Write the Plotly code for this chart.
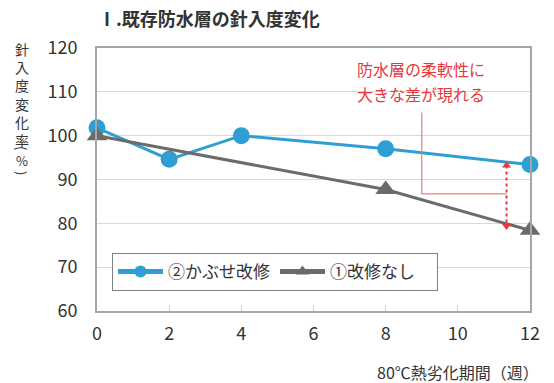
import plotly.graph_objects as go

# Weeks of heat aging at 80°C
weeks = [0, 2, 4, 8, 12]
weeks_none = [0, 8, 12]

# Penetration change ratio (%)
covered = [101.8, 94.6, 100.0, 97.0, 93.4]     # ②かぶせ改修
unrepaired = [100.0, 87.7, 78.4]               # ①改修なし

y_ticks = [60, 70, 80, 90, 100, 110, 120]
x_ticks = [0, 2, 4, 6, 8, 10, 12]

# Callout geometry (data units)
bracket_x = [9.0, 9.0, 11.35]
bracket_y = [105.3, 86.7, 86.7]
arrow_x = 11.35
arrow_top = 93.2
arrow_bottom = 79.4

FONT = "Noto Sans CJK JP"
BLUE = "#2f9fd3"
GRAY = "#6b6b6b"
RED = "#e8383d"
TEXT = "#333333"

W, H = 554, 383
ML, MR, MT, MB = 97, 24, 48, 72
PW, PH = W - ML - MR, H - MT - MB


def px(xp, yp):
    """Pixel position on the page -> paper coordinates."""
    return (xp - ML) / PW, 1 - (yp - MT) / PH


fig = go.Figure()

fig.add_trace(go.Scatter(
    x=weeks, y=covered, name="②かぶせ改修", mode="lines+markers",
    line=dict(color=BLUE, width=3),
    marker=dict(symbol="circle", size=17, color=BLUE),
    cliponaxis=False,
))
fig.add_trace(go.Scatter(
    x=weeks_none, y=unrepaired, name="①改修なし\u3000", mode="lines+markers",
    line=dict(color=GRAY, width=3),
    marker=dict(symbol="triangle-up", size=18, color=GRAY),
    cliponaxis=False,
))

# Bracket line from the callout text
fig.add_trace(go.Scatter(
    x=bracket_x, y=bracket_y, mode="lines", showlegend=False,
    line=dict(color="#f07a7a", width=1.2), hoverinfo="skip",
))
# Dotted double arrow showing the gap
fig.add_trace(go.Scatter(
    x=[arrow_x, arrow_x], y=[arrow_top, arrow_bottom], mode="lines", showlegend=False,
    line=dict(color=RED, width=2, dash="dot"), hoverinfo="skip",
))
fig.add_trace(go.Scatter(
    x=[arrow_x, arrow_x], y=[arrow_top, arrow_bottom], mode="markers", showlegend=False,
    marker=dict(symbol=["triangle-up", "triangle-down"], size=8, color=RED),
    hoverinfo="skip",
))

# Callout text
for line_text, yp in [("防水層の柔軟性に", 69), ("大きな差が現れる", 94)]:
    ax, ay = px(421, yp)
    fig.add_annotation(
        x=ax, y=ay, xref="paper", yref="paper", text=line_text, showarrow=False,
        font=dict(family=FONT, size=16, color=RED), xanchor="center", yanchor="middle",
    )

# Title
tx, ty = px(96, 18)
fig.add_annotation(
    x=tx, y=ty, xref="paper", yref="paper", text="<b>Ⅰ.既存防水層の針入度変化</b>",
    showarrow=False, font=dict(family=FONT, size=18, color=TEXT),
    xanchor="left", yanchor="middle",
)

# Vertical y-axis title: upright glyphs stacked, then rotated parentheses around %
cx, cy = px(22, 37)
fig.add_annotation(
    x=cx, y=cy, xref="paper", yref="paper",
    text="<br>".join(list("針入度変化率")),
    showarrow=False, font=dict(family=FONT, size=14, color=TEXT),
    xanchor="center", yanchor="top", align="center",
)
for ch, yp, angle in [("(", 148, 90), ("%", 160, 0), (")", 173, 90)]:
    cx, cy = px(22, yp)
    fig.add_annotation(
        x=cx, y=cy, xref="paper", yref="paper", text=ch, showarrow=False,
        textangle=angle, font=dict(family=FONT, size=13, color=TEXT),
        xanchor="center", yanchor="middle", borderpad=0,
    )

# x-axis title
xx, xy = px(541, 372)
fig.add_annotation(
    x=xx, y=xy, xref="paper", yref="paper", text="80℃熱劣化期間（週）", showarrow=False,
    font=dict(family=FONT, size=16, color=TEXT),
    xanchor="right", yanchor="middle",
)

lx, ly = px(112, 253)
fig.update_layout(
    width=W, height=H,
    margin=dict(l=ML, r=MR, t=MT, b=MB),
    paper_bgcolor="white", plot_bgcolor="white",
    font=dict(family=FONT, color=TEXT),
    showlegend=True,
    legend=dict(
        orientation="h", x=lx, y=ly, xanchor="left", yanchor="top",
        bgcolor="white", bordercolor="#7f7f7f", borderwidth=1,
        font=dict(family=FONT, size=17, color=TEXT),
        itemwidth=45, entrywidth=102, entrywidthmode="pixels", itemsizing="constant",
    ),
    xaxis=dict(
        range=[0, 12], tickvals=x_ticks, ticktext=[str(v) for v in x_ticks],
        showgrid=False, zeroline=False,
        showline=True, linecolor="#a6a6a6", linewidth=2, mirror=True,
        ticks="inside", ticklen=6, tickcolor="#d0d0d0",
        tickfont=dict(family=FONT, size=18, color=TEXT),
        ticklabelstandoff=5,
    ),
    yaxis=dict(
        range=[60, 120], tickvals=y_ticks, ticktext=[str(v) for v in y_ticks],
        showgrid=True, gridcolor="#d9d9d9", gridwidth=1, zeroline=False,
        showline=True, linecolor="#a6a6a6", linewidth=2, mirror=True,
        ticks="", tickfont=dict(family=FONT, size=18, color=TEXT),
        ticklabelstandoff=14,
    ),
)

fig.write_html("out.html")
